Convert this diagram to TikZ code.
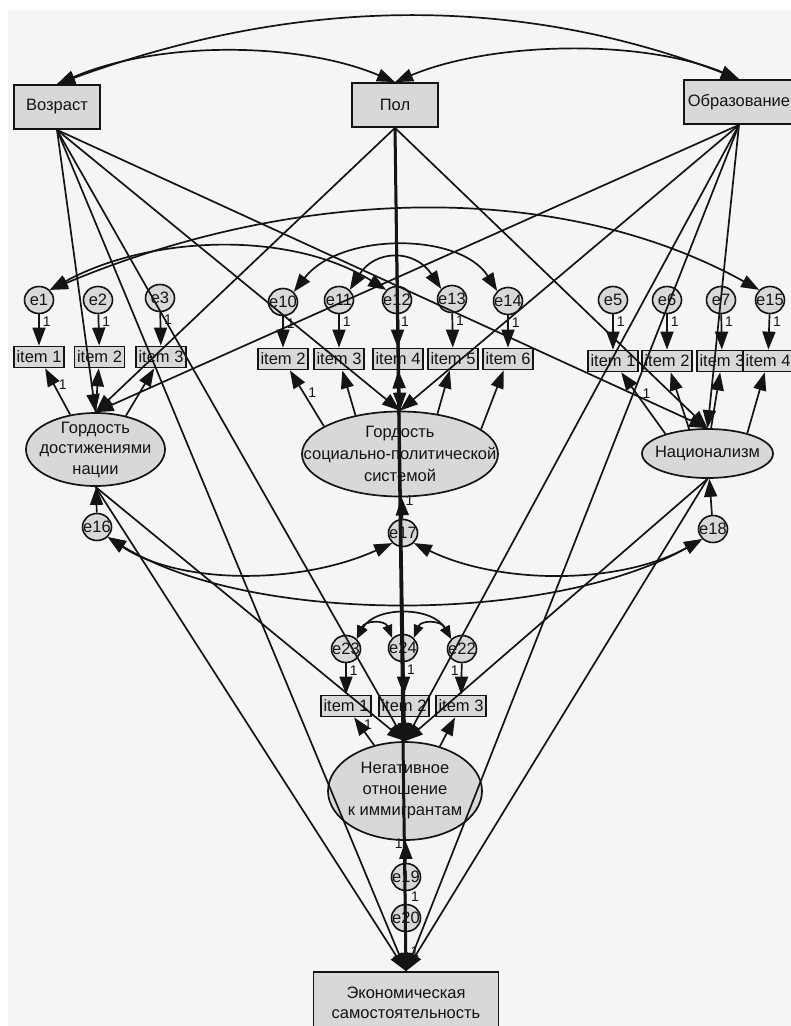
\documentclass[tikz,border=0pt]{standalone}
\usepackage{fontspec}
\setmainfont{Liberation Sans}
\usetikzlibrary{arrows.meta,shapes.geometric}
\definecolor{bgc}{RGB}{245,245,245}
\definecolor{nfill}{RGB}{216,216,216}
\definecolor{ink}{RGB}{20,20,20}
\newcommand\etxt[1]{\makebox[0pt]{#1}}
\begin{document}
\begin{tikzpicture}[x=1pt,y=-1pt,
 every node/.style={font=\fontsize{16.5}{20.5}\selectfont,text=ink},
 box/.style={draw=ink,line width=1.8pt,fill=nfill,rectangle,inner sep=0pt,align=center},
 itembox/.style={box,minimum width=50pt,minimum height=21pt},
 latent/.style={draw=ink,line width=1.7pt,fill=nfill,ellipse,inner sep=0pt},
 err/.style={draw=ink,line width=1.6pt,fill=nfill,ellipse,inner sep=0pt,minimum width=29pt,minimum height=27pt},
 reg/.style={draw=ink,line width=1.7pt,-{Triangle[length=18pt,width=13pt]}},
 cov/.style={draw=ink,line width=1.7pt,{Triangle[length=18pt,width=13pt]}-{Triangle[length=18pt,width=13pt]}},
 scov/.style={draw=ink,line width=1.7pt,{Triangle[length=13pt,width=10pt]}-{Triangle[length=13pt,width=10pt]}},
 one/.style={font=\fontsize{14}{14}\selectfont,inner sep=1pt},
]
\useasboundingbox (0,0) rectangle (791,1026);
\fill[bgc] (8,10) rectangle (791,1026);

% observed exogenous / outcome
\node[box,minimum width=86pt,minimum height=44pt] (age) at (57,107) {Возраст};
\node[box,minimum width=86pt,minimum height=44pt] (sex) at (395,105) {Пол};
\node[box,minimum width=110pt,minimum height=44pt] (edu) at (739,102) {Образование};
\node[box,minimum width=185pt,minimum height=62pt] (econ) at (406,1003) {Экономическая\\самостоятельность};

% latents
\node[latent,minimum width=139pt,minimum height=73pt] (ell1) at (95.5,449.5) {};
\node[align=center] at (ell1) {Гордость\\достижениями\\нации};
\node[latent,minimum width=196pt,minimum height=85pt] (ell2) at (400,454) {};
\node[align=center,font=\fontsize{16.5}{22}\selectfont] at (ell2) {Гордость\\социально-политической\\системой};
\node[latent,minimum width=131pt,minimum height=49pt] (ell3) at (707.5,453.5) {};
\node at (ell3) {Национализм};
\node[latent,minimum width=154pt,minimum height=98pt] (neg) at (405,791) {};
\node[align=center,font=\fontsize{16.5}{21}\selectfont] at (neg) {Негативное\\отношение\\к иммигрантам};

% error terms
\node[err] (e1) at (39,300) {\etxt{e1}};
\node[err] (e2) at (98,300) {\etxt{e2}};
\node[err] (e3) at (160,298) {\etxt{e3}};
\node[err] (e10) at (283,302) {\etxt{e10}};
\node[err] (e11) at (339,300) {\etxt{e11}};
\node[err] (e12) at (397,300) {\etxt{e12}};
\node[err] (e13) at (452,299) {\etxt{e13}};
\node[err] (e14) at (508,301) {\etxt{e14}};
\node[err] (e5) at (613,300) {\etxt{e5}};
\node[err] (e6) at (667,300) {\etxt{e6}};
\node[err] (e7) at (721,300) {\etxt{e7}};
\node[err] (e15) at (770,300) {\etxt{e15}};
\node[err] (e16) at (97,527) {\etxt{e16}};
\node[err] (e17) at (403,533) {\etxt{e17}};
\node[err] (e18) at (713,529) {\etxt{e18}};
\node[err] (e23) at (346,649) {\etxt{e23}};
\node[err] (e24) at (403,648) {\etxt{e24}};
\node[err] (e22) at (462,649) {\etxt{e22}};
\node[err] (e19) at (406,877) {\etxt{e19}};
\node[err] (e20) at (406,918) {\etxt{e20}};

% items
\node[itembox] (i1a) at (39,357) {item 1};
\node[itembox] (i1b) at (99.5,357) {item 2};
\node[itembox] (i1c) at (161,357) {item 3};
\node[itembox] (i2a) at (283,359) {item 2};
\node[itembox] (i2b) at (339,359) {item 3};
\node[itembox] (i2c) at (398,359) {item 4};
\node[itembox] (i2d) at (453,359) {item 5};
\node[itembox] (i2e) at (508,359) {item 6};
\node[itembox] (i3a) at (613,361) {item 1};
\node[itembox] (i3b) at (667,361) {item 2};
\node[itembox] (i3c) at (722,361) {item 3};
\node[itembox] (i3d) at (768,361) {item 4};
\node[itembox] (i4a) at (346,706) {item 1};
\node[itembox] (i4b) at (404,706) {item 2};
\node[itembox] (i4c) at (461,706) {item 3};

% covariances among exogenous
\draw[cov] (age.north) .. controls (300,-5) and (520,-5) .. (edu.north);
\draw[cov] (age.north) .. controls (160,40) and (300,42) .. (sex.north);
\draw[cov] (sex.north) .. controls (490,42) and (640,38) .. (edu.north);

% regressions from exogenous
\foreach \s in {age,sex,edu}{
  \foreach \t in {ell1,ell2,ell3,neg}{
    \draw[reg] (\s.south) -- (\t.north);
  }
}
\draw[reg] (age.south) -- (econ.north);
\draw[reg,line width=3pt] (sex.south) -- (econ.north);
\draw[reg] (edu.south) -- (econ.north);

% structural paths
\draw[reg] (ell1.south) -- (neg.north);
\draw[reg] (ell1.south) -- (econ.north);
\draw[reg] (ell2.south) -- (neg.north);
\draw[reg] (ell2.south) -- (econ.north);
\draw[reg] (ell3.south) -- (neg.north);
\draw[reg] (ell3.south) -- (econ.north);
\draw[reg] (neg.south) -- (econ.north);

% loadings
\draw[reg] (ell1.126) -- node[one,right,pos=0.65,xshift=3pt]{1} (i1a);
\draw[reg] (ell1.north) -- (i1b);
\draw[reg] (ell1.48) -- (i1c);
\draw[reg] (ell2.160) -- node[one,right,pos=0.6,xshift=3pt]{1} (i2a);
\draw[reg] (ell2.139) -- (i2b);
\draw[reg] (ell2.north) -- (i2c);
\draw[reg] (ell2.47) -- (i2d);
\draw[reg] (ell2.17) -- (i2e);
\draw[reg] (ell3.155) -- node[one,right,pos=0.65,xshift=4pt]{1} (i3a);
\draw[reg] (ell3.127) -- (i3b);
\draw[reg] (ell3.82) -- (i3c);
\draw[reg] (ell3.27) -- (i3d);
\draw[reg] (neg.124) -- node[one,right,pos=0.75,xshift=3pt]{1} (i4a);
\draw[reg] (neg.north) -- (i4b);
\draw[reg] (neg.52) -- (i4c);

% measurement errors
\foreach \e/\i in {e1/i1a,e2/i1b,e3/i1c,e10/i2a,e11/i2b,e12/i2c,e13/i2d,e14/i2e,e5/i3a,e6/i3b,e7/i3c,e15/i3d,e23/i4a,e24/i4b}{
  \draw[reg] (\e) -- node[one,right,pos=0.22,xshift=2pt]{1} (\i);
}
\draw[reg] (e22) -- node[one,left,pos=0.22,xshift=-1pt]{1} (i4c);

% disturbances
\draw[reg] (e16) -- (ell1);
\draw[reg] (e17) -- node[one,right,pos=0.85,xshift=2pt]{1} (ell2);
\draw[reg] (e18) -- (ell3);
\draw[reg] (e19) -- node[one,left,pos=0.85,xshift=-1pt]{1} (neg);
\draw[reg] (e20) -- node[one,right,pos=0.5,xshift=3pt]{1} (econ);
\node[one] (lbl) at (415,897) {1};

% error covariances (top)
\draw[cov] (e1.north east) .. controls (300,185) and (560,180) .. (e15.north west);
\draw[cov] (e1.north east) .. controls (150,235) and (290,230) .. (e12.north west);
\draw[cov] (e10.north east) .. controls (340,232) and (460,232) .. (e14.north west);
\draw[cov] (e11.north east) .. controls (375,249) and (415,249) .. (e13.north west);

% disturbance covariances
\draw[cov] (e16.south east) .. controls (180,585) and (300,585) .. (e17.south west);
\draw[cov] (e17.south east) .. controls (500,585) and (620,585) .. (e18.south west);
\draw[cov] (e16.south east) .. controls (250,625) and (550,625) .. (e18.south west);

% bottom error covariances
\draw[scov] (e23.north east) .. controls (375,606) and (432,606) .. (e22.north west);
\draw[scov] (e23.north east) .. controls (365,620) and (385,620) .. (e24.north west);
\draw[scov] (e24.north east) .. controls (421,620) and (441,620) .. (e22.north west);
\end{tikzpicture}
\end{document}
